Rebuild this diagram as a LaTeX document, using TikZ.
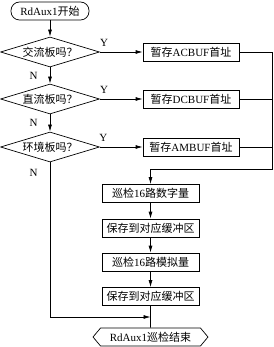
\documentclass[tikz,border=0pt]{standalone}
\usepackage{fontspec}
\setmainfont{Liberation Serif}
\newfontfamily\cjk{Noto Sans CJK SC}
\newcommand{\zh}[1]{{\cjk #1}}
\usetikzlibrary{arrows.meta,positioning,shapes.geometric,shapes.symbols}
\tikzset{
  startbox/.style={draw, rounded corners=8.5pt, minimum width=78pt,
                   minimum height=18pt, inner sep=0pt, line width=0.7pt},
  decis/.style   ={draw, diamond, aspect=3.3, minimum width=99pt,
                   minimum height=30pt, inner sep=0pt, line width=0.7pt},
  procbox/.style ={draw, minimum width=96pt, minimum height=18pt,
                   inner sep=0pt, line width=0.7pt},
  endbox/.style  ={draw, signal, signal to=west and east,
                   signal pointer angle=100, minimum width=115pt,
                   minimum height=18pt, inner sep=0pt, line width=0.7pt},
  flow/.style    ={-{Latex[length=7pt,width=4pt]}, line width=0.7pt},
  link/.style    ={line width=0.7pt},
  yn/.style      ={font=\fontsize{11}{13}\selectfont, inner sep=0pt},
}

\begin{document}
\begin{tikzpicture}[x=1pt, y=-1pt, font=\fontsize{11}{13}\selectfont]
\useasboundingbox (0,0) rectangle (273,347);
% left column: decisions
\node[startbox] (st) at (50,11)  {RdAux1\zh{开始}};
\node[decis] (d1) at (50,52)  {\zh{交流板吗？}};
\node[decis] (d2) at (50,99)  {\zh{直流板吗？}};
\node[decis] (d3) at (50,147) {\zh{环境板吗？}};
% right column: buffers
\node[procbox] (ac) at (191,52)  {\zh{暂存}ACBUF\zh{首址}};
\node[procbox] (dc) at (191,99)  {\zh{暂存}DCBUF\zh{首址}};
\node[procbox] (am) at (191,147) {\zh{暂存}AMBUF\zh{首址}};
% scan steps
\node[procbox, minimum width=97pt] (dig) at (150.5,193.5) {\zh{巡检}16\zh{路数字量}};
\node[procbox, minimum width=97pt] (sv1) at (150.5,228)   {\zh{保存到对应缓冲区}};
\node[procbox, minimum width=97pt] (ana) at (150.5,262)   {\zh{巡检}16\zh{路模拟量}};
\node[procbox, minimum width=97pt] (sv2) at (150.5,296.5) {\zh{保存到对应缓冲区}};
\node[endbox] (fin) at (150.5,337) {RdAux1\zh{巡检结束}};
\coordinate (rtop) at (272,52);
\coordinate (rbot) at (272,169);
\coordinate (nbot) at (50,317);

\draw[flow] (st) -- (d1);
\draw[flow] (d1) -- node[yn, left=12pt] {N} (d2);
\draw[flow] (d2) -- node[yn, left=12pt] {N} (d3);
\draw[flow] (d1) -- node[yn, pos=0.1, above=5pt] {Y} (ac);
\draw[flow] (d2) -- node[yn, pos=0.1, above=5pt] {Y} (dc);
\draw[flow] (d3) -- node[yn, pos=0.08, above=5pt] {Y} (am);
\draw[flow] (ac.east) -- (rtop) -- (rbot) -| (dig.north);
\draw[link] (dc.east) -- (dc.east -| rtop);
\draw[link] (am.east) -- (am.east -| rtop);
\draw[flow] (dig) -- (sv1);
\draw[flow] (sv1) -- (ana);
\draw[flow] (ana) -- (sv2);
\draw[link] (sv2) -- (fin);
\draw[flow] (d3.south) -- node[yn, pos=0.065, left=12pt] {N} (nbot)
  -- (nbot -| fin.north);
\end{tikzpicture}
\end{document}
